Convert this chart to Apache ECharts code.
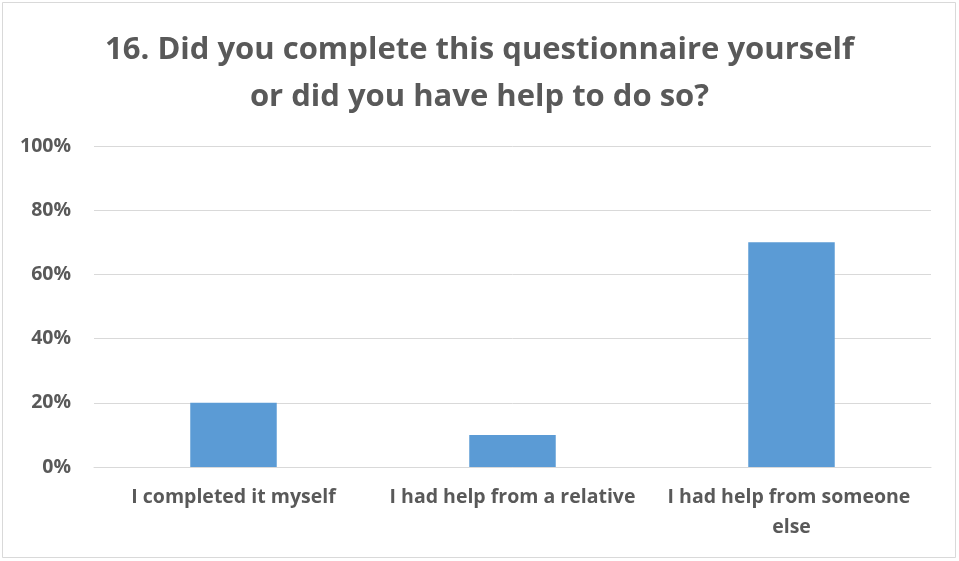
<!DOCTYPE html>
<html><head><meta charset="utf-8">
<script src="https://cdn.jsdelivr.net/npm/echarts@6/dist/echarts.min.js"></script>
<style>html,body{margin:0;padding:0;background:#fff}#c{width:959px;height:561px}</style>
</head><body><div id="c"></div>
<script>
const titleText = "16. Did you complete this questionnaire yourself\nor did you have help to do so?";
const categories = ["I completed it myself", "I had help from a relative", "I had help from someone else"];
const values = [20, 10, 70];
const yTicks = [0, 20, 40, 60, 80, 100];

const chart = echarts.init(document.getElementById('c'), null, {renderer: 'canvas'});
const font = '"Open Sans", sans-serif';
chart.setOption({
  animation: false,
  backgroundColor: '#fff',
  graphic: [{type: 'rect', shape: {x: 2.5, y: 2.5, width: 953, height: 555}, style: {fill: 'none', stroke: '#d9d9d9', lineWidth: 1}, silent: true}],
  title: {
    text: titleText, left: 'center', top: 22,
    textStyle: {fontFamily: font, fontWeight: 'bold', fontSize: 31, color: '#595959', lineHeight: 47}
  },
  grid: {left: 94, right: 28, top: 146, bottom: 94, containLabel: false},
  xAxis: {
    type: 'category', data: categories,
    axisLine: {lineStyle: {color: '#d9d9d9', width: 1}},
    axisTick: {show: false},
    axisLabel: {fontFamily: font, fontWeight: 'bold', fontSize: 19.5, color: '#595959', margin: 15, width: 265, overflow: 'break', lineHeight: 30, interval: 0}
  },
  yAxis: {
    type: 'value', min: yTicks[0], max: yTicks[yTicks.length - 1], interval: 20,
    axisLine: {show: false}, axisTick: {show: false},
    splitLine: {lineStyle: {color: '#d9d9d9', width: 1}},
    axisLabel: {fontFamily: font, fontWeight: 'bold', fontSize: 19.5, color: '#595959', margin: 23, formatter: v => v + '%'}
  },
  series: [{type: 'bar', data: values, barWidth: '31%', itemStyle: {color: '#5B9BD5'}}]
});
</script></body></html>
